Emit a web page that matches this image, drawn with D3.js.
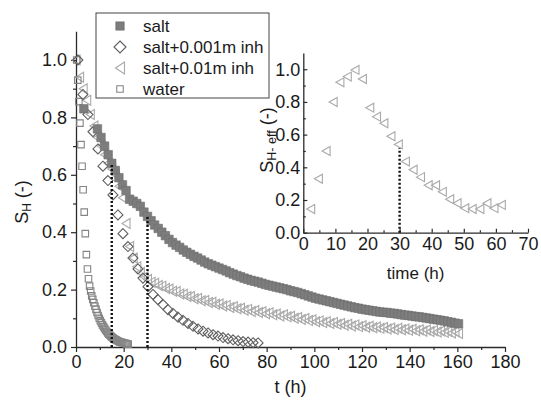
<!DOCTYPE html>
<html>
<head>
<meta charset="utf-8">
<script src="https://cdn.jsdelivr.net/npm/d3@7/dist/d3.min.js"></script>
<style>
  html, body { margin: 0; padding: 0; background: #fff; }
  svg { display: block; font-family: "Liberation Sans", Arial, sans-serif; }
</style>
</head>
<body>
<svg id="chart" width="541" height="405"></svg>
<script>
// ---- degree of hydrogen saturation S_H versus time ----
const seriesNames = ["salt", "salt+0.001m inh", "salt+0.01m inh", "water"];

// salt: one early reading, then sampled every 1.5 h from t = 9
const saltEarlyTimes = [3.3];
const saltEarlyValues = [0.83];
const saltStart = 9, saltStep = 1.5;
const saltValues = [
  0.76, 0.73, 0.70, 0.67,
  0.64, 0.615, 0.59, 0.565, 0.545, 0.515, 0.508, 0.50, 0.49, 0.47,
  0.455, 0.44, 0.425, 0.413, 0.40, 0.388, 0.375, 0.364, 0.355, 0.347,
  0.338, 0.33, 0.323, 0.316, 0.31, 0.303, 0.296, 0.29, 0.285, 0.28,
  0.275, 0.27, 0.265, 0.259, 0.254, 0.249, 0.245, 0.24, 0.236, 0.232,
  0.229, 0.226, 0.222, 0.218, 0.215, 0.212, 0.209, 0.206, 0.203, 0.20,
  0.196, 0.193, 0.19, 0.186, 0.182, 0.178, 0.174, 0.17, 0.167, 0.164,
  0.161, 0.158, 0.155, 0.152, 0.149, 0.146, 0.143, 0.14, 0.137, 0.135,
  0.132, 0.13, 0.128, 0.126, 0.124, 0.122, 0.121, 0.12, 0.118, 0.117,
  0.115, 0.113, 0.111, 0.11, 0.108, 0.106, 0.105, 0.103, 0.101, 0.099,
  0.097, 0.095, 0.093, 0.091, 0.088, 0.086, 0.083, 0.081
];

// salt + 0.001 m inhibitor: sampled every 2.1 h from t = 0.8
const inh1Start = 0.8, inh1Step = 2.1;
const inh1Values = [
  1.00, 0.88, 0.81, 0.75, 0.69, 0.63, 0.58, 0.53, 0.46, 0.395,
  0.35, 0.31, 0.272, 0.24, 0.21, 0.183, 0.165, 0.148, 0.13, 0.117,
  0.104, 0.093, 0.082, 0.072, 0.063, 0.055, 0.049, 0.043, 0.038, 0.033,
  0.029, 0.025, 0.022, 0.019, 0.017, 0.015, 0.014
];

// salt + 0.01 m inhibitor: sampled every 1.5 h from t = 0
const inh2Start = 0, inh2Step = 1.5;
const inh2Values = [
  1.00, 0.94, 0.90, 0.86, 0.81, 0.77, 0.73, 0.70, 0.67, 0.64,
  0.62, 0.60, 0.56, 0.52, 0.43, 0.35, 0.31, 0.28, 0.26, 0.245,
  0.235, 0.226, 0.222, 0.214, 0.212, 0.204, 0.202, 0.194, 0.193, 0.185,
  0.184, 0.176, 0.176, 0.168, 0.169, 0.161, 0.162, 0.155, 0.156, 0.149,
  0.150, 0.143, 0.145, 0.138, 0.140, 0.133, 0.135, 0.128, 0.131, 0.124,
  0.127, 0.120, 0.123, 0.116, 0.119, 0.112, 0.115, 0.108, 0.112, 0.105,
  0.107, 0.100, 0.103, 0.096, 0.099, 0.092, 0.095, 0.088, 0.091, 0.085,
  0.088, 0.082, 0.085, 0.079, 0.082, 0.076, 0.079, 0.073, 0.077, 0.071,
  0.074, 0.069, 0.072, 0.067, 0.070, 0.065, 0.068, 0.063, 0.066, 0.061,
  0.065, 0.060, 0.063, 0.058, 0.062, 0.057, 0.060, 0.055, 0.059, 0.054,
  0.057, 0.052, 0.056, 0.051, 0.054, 0.049, 0.053, 0.047
];

// water: sampled every 0.45 h from t = 0.3
const waterStart = 0.3, waterStep = 0.45;
const waterValues = [
  1.00, 0.93, 0.855, 0.78, 0.705, 0.63, 0.548, 0.47, 0.395, 0.322,
  0.272, 0.238, 0.212, 0.195, 0.178, 0.166, 0.154, 0.142, 0.131, 0.120,
  0.110, 0.100, 0.092, 0.084, 0.077, 0.071, 0.065, 0.059, 0.054, 0.049,
  0.045, 0.041, 0.037, 0.034, 0.031, 0.028, 0.026, 0.024, 0.022, 0.020,
  0.018, 0.017, 0.016, 0.015, 0.014, 0.013, 0.012, 0.011, 0.010
];

// dotted guide lines in the main plot (time, height)
const guideTimes = [15, 30];
const guideTops = [0.64, 0.455];

// inset: effective saturation of the 0.01 m inhibitor run
const effTimes = [2.3, 4.7, 7.1, 9.3, 11.4, 13.7, 16.1, 18.4, 20.7, 22.8,
  25.1, 27.3, 29.6, 31.8, 34.2, 36.5, 38.9, 41.2, 43.3, 45.6,
  47.9, 50.3, 52.6, 55.0, 57.2, 59.4, 61.7];
const effValues = [0.145, 0.33, 0.50, 0.80, 0.92, 0.955, 0.996, 0.94, 0.765, 0.71,
  0.67, 0.59, 0.54, 0.435, 0.385, 0.34, 0.29, 0.29, 0.25, 0.205,
  0.18, 0.15, 0.145, 0.145, 0.18, 0.15, 0.17];
const effGuideTime = 30, effGuideTop = 0.52;

// tick values
const mainXTicks = [0, 20, 40, 60, 80, 100, 120, 140, 160, 180];
const mainYTicks = [0.0, 0.2, 0.4, 0.6, 0.8, 1.0];
const insetXTicks = [0, 10, 20, 30, 40, 50, 60, 70];
const insetYTicks = [0.0, 0.2, 0.4, 0.6, 0.8, 1.0];

// ---- helpers ----
const toPoints = (start, step, vals) => vals.map((v, i) => ({ t: start + i * step, v }));
const sqPath = s => `M${-s/2},${-s/2}h${s}v${s}h${-s}Z`;
const diaPath = r => `M0,${-r}L${r},0L0,${r}L${-r},0Z`;
const triLeftPath = (w, h) => `M${-w/2},0L${w/2},${-h/2}L${w/2},${h/2}Z`;

const svg = d3.select("#chart");
const textColor = "#1a1a1a";
const axisColor = "#2a2a2a";

function styleAxis(g) {
  g.selectAll("path.domain").attr("stroke", axisColor).attr("stroke-width", 1.3);
  g.selectAll(".tick line").attr("stroke", axisColor).attr("stroke-width", 1.2);
  g.selectAll(".tick text").attr("fill", textColor).style("font-size", "18px")
    .style("font-family", "Liberation Sans, Arial, sans-serif");
}

// ---- main plot ----
const x = d3.scaleLinear().domain([0, 180]).range([76, 505]);
const y = d3.scaleLinear().domain([0, 1.1]).range([347, 31.3]);

const mainMinorX = d3.range(10, 180, 20);
const mainMinorY = [0.1, 0.3, 0.5, 0.7, 0.9];

svg.append("g").attr("transform", `translate(0,${y(0)})`)
  .call(d3.axisBottom(x).tickValues(mainMinorX).tickSize(3).tickFormat(""))
  .call(g => g.select("path.domain").remove())
  .call(styleAxis);
svg.append("g").attr("transform", `translate(${x(0)},0)`)
  .call(d3.axisLeft(y).tickValues(mainMinorY).tickSize(3).tickFormat(""))
  .call(g => g.select("path.domain").remove())
  .call(styleAxis);

svg.append("g").attr("transform", `translate(0,${y(0)})`)
  .call(d3.axisBottom(x).tickValues(mainXTicks).tickSize(5).tickSizeOuter(0).tickPadding(3)
    .tickFormat(d3.format("d")))
  .call(styleAxis);
svg.append("g").attr("transform", `translate(${x(0)},0)`)
  .call(d3.axisLeft(y).tickValues(mainYTicks).tickSize(5).tickSizeOuter(0).tickPadding(4)
    .tickFormat(d3.format(".1f")))
  .call(styleAxis);

// series marks
const plot = svg.append("g");

plot.append("g").selectAll("path")
  .data(toPoints(inh2Start, inh2Step, inh2Values)).join("path")
  .attr("transform", d => `translate(${x(d.t)},${y(d.v)})`)
  .attr("d", triLeftPath(8, 10))
  .attr("fill", "none").attr("stroke", "#a9a9a9").attr("stroke-width", 1.1);

plot.append("g").selectAll("path")
  .data(toPoints(waterStart, waterStep, waterValues)).join("path")
  .attr("transform", d => `translate(${x(d.t)},${y(d.v)})`)
  .attr("d", sqPath(6.5))
  .attr("fill", "none").attr("stroke", "#858585").attr("stroke-width", 1.1);

plot.append("g").selectAll("path")
  .data(toPoints(inh1Start, inh1Step, inh1Values)).join("path")
  .attr("transform", d => `translate(${x(d.t)},${y(d.v)})`)
  .attr("d", diaPath(5))
  .attr("fill", "none").attr("stroke", "#5e5e5e").attr("stroke-width", 1.1);

const saltPoints = saltEarlyTimes.map((t, i) => ({ t, v: saltEarlyValues[i] }))
  .concat(toPoints(saltStart, saltStep, saltValues));
plot.append("g").selectAll("path")
  .data(saltPoints).join("path")
  .attr("transform", d => `translate(${x(d.t)},${y(d.v)})`)
  .attr("d", sqPath(8.5))
  .attr("fill", "#7d7d7d").attr("stroke", "#6f6f6f").attr("stroke-width", 0.6);

// dotted guides
svg.append("g").selectAll("line")
  .data(guideTimes.map((t, i) => ({ t, top: guideTops[i] }))).join("line")
  .attr("x1", d => x(d.t)).attr("x2", d => x(d.t))
  .attr("y1", y(0)).attr("y2", d => y(d.top))
  .attr("stroke", "#111").attr("stroke-width", 2.4).attr("stroke-dasharray", "2,2");

// axis titles
svg.append("text").attr("x", x(90)).attr("y", 393).attr("text-anchor", "middle")
  .attr("fill", textColor).style("font-size", "18px").text("t (h)");

const yTitle = svg.append("text").attr("transform", "translate(28,202) rotate(-90)")
  .attr("text-anchor", "middle").attr("fill", textColor).style("font-size", "18px");
yTitle.append("tspan").text("S");
yTitle.append("tspan").attr("baseline-shift", "-22%").style("font-size", "12px").text("H");
yTitle.append("tspan").text(" (-)");

// legend
const legend = svg.append("g");
legend.append("rect").attr("x", 96).attr("y", 13).attr("width", 173).attr("height", 85)
  .attr("fill", "#fff").attr("stroke", "#444").attr("stroke-width", 1);
const legendRows = [
  { name: seriesNames[0], y: 26, d: sqPath(8), fill: "#7d7d7d", stroke: "#6f6f6f" },
  { name: seriesNames[1], y: 47, d: diaPath(6), fill: "none", stroke: "#5e5e5e" },
  { name: seriesNames[2], y: 68, d: triLeftPath(9, 12), fill: "none", stroke: "#a9a9a9" },
  { name: seriesNames[3], y: 89, d: sqPath(6.5), fill: "none", stroke: "#858585" }
];
legendRows.forEach(r => {
  legend.append("path").attr("transform", `translate(120,${r.y})`).attr("d", r.d)
    .attr("fill", r.fill).attr("stroke", r.stroke).attr("stroke-width", 1.1);
  legend.append("text").attr("x", 143).attr("y", r.y + 6).attr("fill", textColor)
    .style("font-size", "17px").text(r.name);
});

// ---- inset ----
const xi = d3.scaleLinear().domain([0, 70]).range([303.3, 528]);
const yi = d3.scaleLinear().domain([0, 1.1]).range([232.7, 52.9]);

svg.append("g").attr("transform", `translate(0,${yi(0)})`)
  .call(d3.axisBottom(xi).tickValues(d3.range(5, 70, 10)).tickSize(-2.5).tickFormat(""))
  .call(g => g.select("path.domain").remove())
  .call(styleAxis);
svg.append("g").attr("transform", `translate(${xi(0)},0)`)
  .call(d3.axisLeft(yi).tickValues([0.1, 0.3, 0.5, 0.7, 0.9]).tickSize(-2.5).tickFormat(""))
  .call(g => g.select("path.domain").remove())
  .call(styleAxis);
svg.append("g").attr("transform", `translate(0,${yi(0)})`)
  .call(d3.axisBottom(xi).tickValues(insetXTicks).tickSize(-4).tickSizeOuter(0).tickPadding(5)
    .tickFormat(d3.format("d")))
  .call(styleAxis);
svg.append("g").attr("transform", `translate(${xi(0)},0)`)
  .call(d3.axisLeft(yi).tickValues(insetYTicks).tickSize(-4).tickSizeOuter(0).tickPadding(3)
    .tickFormat(d3.format(".1f")))
  .call(styleAxis);

svg.append("line")
  .attr("x1", xi(effGuideTime)).attr("x2", xi(effGuideTime))
  .attr("y1", yi(0)).attr("y2", yi(effGuideTop))
  .attr("stroke", "#111").attr("stroke-width", 2.4).attr("stroke-dasharray", "2,2");

svg.append("g").selectAll("path")
  .data(effTimes.map((t, i) => ({ t, v: effValues[i] }))).join("path")
  .attr("transform", d => `translate(${xi(d.t)},${yi(d.v)})`)
  .attr("d", triLeftPath(8, 9))
  .attr("fill", "none").attr("stroke", "#a9a9a9").attr("stroke-width", 1.1);

svg.append("text").attr("x", xi(35)).attr("y", 279).attr("text-anchor", "middle")
  .attr("fill", textColor).style("font-size", "17px").text("time (h)");

const yiTitle = svg.append("text").attr("transform", "translate(273,140) rotate(-90)")
  .attr("text-anchor", "middle").attr("fill", textColor).style("font-size", "18px");
yiTitle.append("tspan").text("S");
yiTitle.append("tspan").attr("baseline-shift", "-22%").style("font-size", "12.5px").text("H- eff");
yiTitle.append("tspan").text(" (-)");
</script>
</body>
</html>
